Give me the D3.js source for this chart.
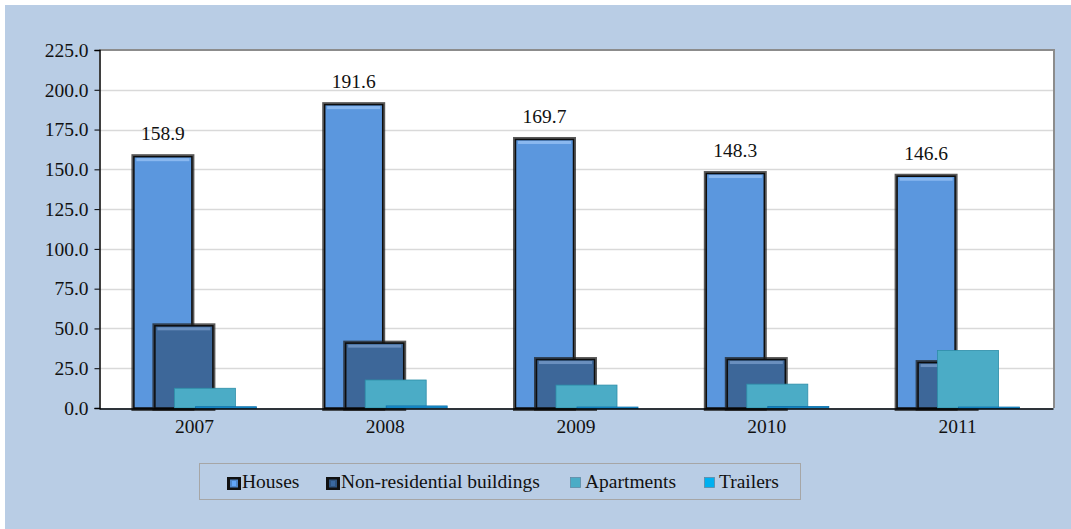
<!DOCTYPE html>
<html>
<head>
<meta charset="utf-8">
<script src="https://cdn.jsdelivr.net/npm/d3@7"></script>
<style>
  body { margin: 0; background: #fff; }
  svg text { font-family: 'Liberation Serif', 'DejaVu Serif', serif; fill: #111; }
</style>
</head>
<body>
<script>
// data
var years = ['2007', '2008', '2009', '2010', '2011'];
var seriesNames = ['Houses', 'Non-residential buildings', 'Apartments', 'Trailers'];
var houses = [158.9, 191.6, 169.7, 148.3, 146.6];
var nonResidential = [52.6, 41.7, 31.4, 31.4, 29.5];
var apartments = [12.4, 17.6, 14.4, 15.0, 36.2];
var trailers = [0.8, 1.3, 0.6, 1.0, 0.6];
var yTicks = [0, 25, 50, 75, 100, 125, 150, 175, 200, 225];

var allSeries = [houses, nonResidential, apartments, trailers];
var colors = ['#5b97de', '#3d6799', '#4bacc6', '#1b8fcf'];
var legendColors = ['#4f86c9', '#2f5480', '#4bacc6', '#00b0f0'];

var width = 1071,
    height = 529,
    plotLeft = 99,
    plotRight = 1053,
    plotTop = 50,
    plotBottom = 408,
    fontSize = 19.5,
    fontFam = "'Liberation Serif', 'DejaVu Serif', serif";

var svg = d3.select('body')
    .append('svg')
    .attr('width', width)
    .attr('height', height)
    .style('font-family', fontFam)

// outer background
svg.append('rect')
    .attr('x', 5).attr('y', 5)
    .attr('width', width - 5).attr('height', height - 5)
    .attr('fill', '#b9cde5')

var x = d3.scaleBand()
    .domain(years)
    .range([plotLeft, plotRight]);

var y = d3.scaleLinear()
    .domain([0, 225])
    .range([plotBottom, plotTop]);

// plot area with gray shadow border top/right
svg.append('rect')
    .attr('x', plotLeft).attr('y', plotTop - 1)
    .attr('width', plotRight - plotLeft + 2).attr('height', plotBottom - plotTop + 1)
    .attr('fill', '#8c8c8c')
svg.append('rect')
    .attr('x', plotLeft).attr('y', plotTop + 1)
    .attr('width', plotRight - plotLeft).attr('height', plotBottom - plotTop - 1)
    .attr('fill', '#fff')

// gridlines
svg.append('g')
    .selectAll('line')
    .data(yTicks.filter(d => d > 0 && d < 225))
    .enter()
    .append('line')
    .attr('x1', plotLeft)
    .attr('x2', plotRight)
    .attr('y1', d => Math.round(y(d)) + 0.5)
    .attr('y2', d => Math.round(y(d)) + 0.5)
    .attr('stroke', '#d9d9d9')
    .attr('stroke-width', 1.5)

// bars: overlapping, each series shifted right
var barW = 61, step = 21, offset0 = -62;

var barData = [];
allSeries.forEach(function (vals, si) {
    vals.forEach(function (v, i) {
        barData.push({ s: si, year: years[i], value: v });
    });
});

var bars = svg.append('g');
barData.forEach(function (d) {
    var cx = x(d.year) + x.bandwidth() / 2;
    var bx = cx + offset0 + d.s * step;
    var by = y(d.value);
    var bh = plotBottom - by;
    if (d.s < 2) {
        // dark shadow, slightly below axis
        bars.append('rect')
            .attr('x', bx - 1).attr('y', by - 1)
            .attr('width', barW + 2).attr('height', bh + 4)
            .attr('fill', '#222')
            .attr('opacity', 0.75)
        bars.append('rect')
            .attr('x', bx + 1.5).attr('y', by + 1.5)
            .attr('width', barW - 3).attr('height', bh - 1.5)
            .attr('fill', colors[d.s])
            .attr('stroke', '#0d0d0d')
            .attr('stroke-width', 1.5)
        // light top edge highlight
        bars.append('rect')
            .attr('x', bx + 4).attr('y', by + 3)
            .attr('width', barW - 8).attr('height', 3)
            .attr('fill', d.s === 0 ? '#8ab8ef' : '#6a8fbe')
    } else {
        bars.append('rect')
            .attr('x', bx).attr('y', by)
            .attr('width', barW).attr('height', Math.max(bh, 1.5))
            .attr('fill', colors[d.s])
            .attr('stroke', d.s === 2 ? '#2d8ea8' : '#0b6fa8')
            .attr('stroke-width', 0.8)
    }
});

// value labels for houses
svg.append('g')
    .selectAll('text')
    .data(houses)
    .enter()
    .append('text')
    .attr('x', (d, i) => x(years[i]) + x.bandwidth() / 2 + offset0 + barW / 2)
    .attr('y', d => y(d) - 15)
    .attr('text-anchor', 'middle')
    .attr('font-size', fontSize)
    .attr('font-family', fontFam)
    .text(d => d.toFixed(1))

// y axis
var yAxis = svg.append('g')
    .attr('transform', 'translate(' + (plotLeft + 0.5) + ',0)')
    .call(d3.axisLeft(y).tickValues(yTicks).tickFormat(d3.format('.1f')).tickSize(5).tickPadding(6));
yAxis.attr('font-family', fontFam);
yAxis.select('.domain').attr('stroke', '#000').attr('stroke-width', 1.5);
yAxis.selectAll('.tick line').attr('stroke', '#000');
yAxis.selectAll('text').attr('font-size', fontSize).attr('fill', '#111');

// x axis
var xAxis = svg.append('g')
    .attr('transform', 'translate(0,' + (plotBottom + 0.5) + ')')
    .call(d3.axisBottom(x).tickSize(0).tickPadding(11));
xAxis.attr('font-family', fontFam);
xAxis.select('.domain').attr('stroke', '#000').attr('stroke-width', 1.5);
xAxis.selectAll('text').attr('font-size', fontSize).attr('fill', '#111');

// legend
var legend = svg.append('g');
legend.append('rect')
    .attr('x', 199.5).attr('y', 463.5)
    .attr('width', 601).attr('height', 36)
    .attr('fill', '#b9cde5')
    .attr('stroke', '#a6a6a6')
    .attr('stroke-width', 1)

var legendX = [227, 326, 570, 704];
seriesNames.forEach(function (name, i) {
    var g = legend.append('g').attr('transform', 'translate(' + legendX[i] + ',477)');
    if (i < 2) {
        g.append('rect').attr('width', 14).attr('height', 13).attr('fill', '#111');
        g.append('rect').attr('x', 3).attr('y', 2.5).attr('width', 8).attr('height', 8).attr('fill', legendColors[i]);
        g.append('rect').attr('x', 5).attr('y', 4).attr('width', 4).attr('height', 5).attr('fill', d3.color(legendColors[i]).brighter(0.6));
    } else {
        g.append('rect').attr('x', 0.5).attr('y', 0.5).attr('width', 10).attr('height', 10)
            .attr('fill', legendColors[i]).attr('stroke', '#5f8aa6').attr('stroke-width', 0.8);
    }
    g.append('text')
        .attr('x', 15)
        .attr('y', 11)
        .attr('font-size', fontSize)
        .attr('font-family', fontFam)
        .text(name)
});
</script>
</body>
</html>
